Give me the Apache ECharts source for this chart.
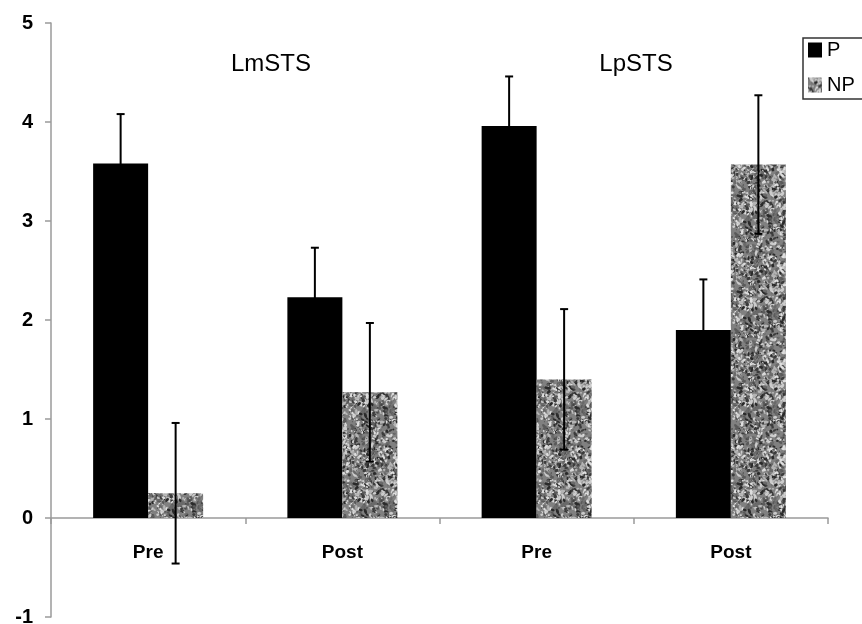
<!DOCTYPE html>
<html>
<head>
<meta charset="utf-8">
<script src="https://cdn.jsdelivr.net/npm/echarts@6/dist/echarts.min.js"></script>
<style>
html,body{margin:0;padding:0;background:#fff;}
#main{width:862px;height:624px;}
</style>
</head>
<body>
<div id="main"></div>
<script>
// ---- data ----
const categories = ['Pre', 'Post', 'Pre', 'Post'];
const groupTitles = ['LmSTS', 'LpSTS'];
const seriesNames = ['P', 'NP'];
const pValues = [3.58, 2.23, 3.96, 1.90];
const pErrors = [0.50, 0.50, 0.50, 0.51];
const npValues = [0.25, 1.27, 1.40, 3.57];
const npErrors = [0.71, 0.70, 0.71, 0.70];
const yTicks = [-1, 0, 1, 2, 3, 4, 5];

// ---- style ----
const BAR_W = 55;
const FONT = '"Liberation Sans", Arial, Helvetica, sans-serif';
const W = 862, H = 624;
const GRID = { left: 51, right: 34, top: 23, bottom: 7 };
const yMin = yTicks[0], yMax = yTicks[yTicks.length - 1];
const gridH = H - GRID.top - GRID.bottom;
// place the category axis on the zero line (axis line, ticks and labels together)
const xAxisOffset = -(0 - yMin) * gridH / (yMax - yMin);

// noise texture for NP bars (deterministic)
function makePattern() {
  const S = 96;
  const base = document.createElement('canvas');
  base.width = S; base.height = S;
  const ctx = base.getContext('2d');
  ctx.fillStyle = '#808080';
  ctx.fillRect(0, 0, S, S);
  let seed = 424242;
  function rnd() { seed = (seed * 1103515245 + 12345) % 2147483648; return seed / 2147483648; }
  const cols = ['#2a2a2a', '#3c3c3c', '#5a5a5a', '#6a6a6a', '#b4b4b4', '#cccccc', '#dedede'];
  for (let k = 0; k < 1800; k++) {
    const x = rnd() * S, y = rnd() * S, r = 0.5 + rnd() * 1.0;
    const c = cols[Math.floor(rnd() * cols.length)];
    const rx = r * (1 + rnd() * 1.3), rot = rnd() * Math.PI;
    ctx.fillStyle = c;
    for (let dx = -S; dx <= S; dx += S) for (let dy = -S; dy <= S; dy += S) {
      ctx.beginPath();
      ctx.ellipse(x + dx, y + dy, rx, r, rot, 0, Math.PI * 2);
      ctx.fill();
    }
  }
  const out = document.createElement('canvas');
  out.width = S; out.height = S;
  const o = out.getContext('2d');
  o.filter = 'blur(0.6px)';
  for (let dx = -S; dx <= S; dx += S) for (let dy = -S; dy <= S; dy += S) o.drawImage(base, dx, dy);
  return out;
}
const npPattern = { image: makePattern(), repeat: 'repeat' };

function errData(vals, errs) {
  return vals.map((v, i) => [i, v, errs[i]]);
}
function errRender(sign) {
  return function (params, api) {
    const i = api.value(0), v = api.value(1), e = api.value(2);
    const top = api.coord([i, v + e]);
    const bot = api.coord([i, v - e]);
    const x = top[0] + sign * BAR_W / 2;
    const cap = 4;
    const st = { stroke: '#000', lineWidth: 2 };
    return {
      type: 'group',
      children: [
        { type: 'line', shape: { x1: x, y1: top[1], x2: x, y2: bot[1] }, style: st },
        { type: 'line', shape: { x1: x - cap, y1: top[1], x2: x + cap, y2: top[1] }, style: st },
        { type: 'line', shape: { x1: x - cap, y1: bot[1], x2: x + cap, y2: bot[1] }, style: st }
      ]
    };
  };
}

const chart = echarts.init(document.getElementById('main'), null, { renderer: 'canvas' });
chart.setOption({
  animation: false,
  backgroundColor: '#fff',
  grid: { left: GRID.left, right: GRID.right, top: GRID.top, bottom: GRID.bottom, containLabel: false, outerBoundsMode: 'none' },
  legend: {
    data: seriesNames,
    orient: 'vertical',
    left: 803, top: 38,
    itemWidth: 14, itemHeight: 15, itemGap: 15,
    padding: [2, 40, 4, 5],
    borderColor: '#333', borderWidth: 1.5,
    icon: 'rect',
    textStyle: { fontFamily: FONT, fontSize: 20, color: '#000' }
  },
  xAxis: {
    type: 'category',
    data: categories,
    offset: xAxisOffset,
    axisLine: { onZero: false, lineStyle: { color: '#9a9a9a', width: 1.5 } },
    axisTick: { show: true, length: 6, lineStyle: { color: '#9a9a9a', width: 1.5 } },
    axisLabel: { margin: 25, fontFamily: FONT, fontSize: 19, fontWeight: 'bold', color: '#000' },
    splitLine: { show: false }
  },
  yAxis: {
    type: 'value',
    min: yMin, max: yMax, interval: 1,
    axisLine: { show: true, lineStyle: { color: '#9a9a9a', width: 1.5 } },
    axisTick: { show: true, length: 6, lineStyle: { color: '#9a9a9a', width: 1.5 } },
    axisLabel: { margin: 18, fontFamily: FONT, fontSize: 20, fontWeight: 'bold', color: '#000' },
    splitLine: { show: false }
  },
  graphic: [
    { type: 'text', x: 271, y: 64, style: { text: groupTitles[0], font: '24px ' + FONT, fill: '#000', align: 'center', verticalAlign: 'middle' } },
    { type: 'text', x: 636, y: 64, style: { text: groupTitles[1], font: '24px ' + FONT, fill: '#000', align: 'center', verticalAlign: 'middle' } }
  ],
  series: [
    { name: seriesNames[0], type: 'bar', data: pValues, barWidth: BAR_W, barGap: '0%', itemStyle: { color: '#000' } },
    { name: seriesNames[1], type: 'bar', data: npValues, barWidth: BAR_W, barGap: '0%', itemStyle: { color: npPattern } },
    { type: 'custom', data: errData(pValues, pErrors), renderItem: errRender(-1), z: 10, silent: true },
    { type: 'custom', data: errData(npValues, npErrors), renderItem: errRender(1), z: 10, silent: true }
  ]
});
</script>
</body>
</html>
